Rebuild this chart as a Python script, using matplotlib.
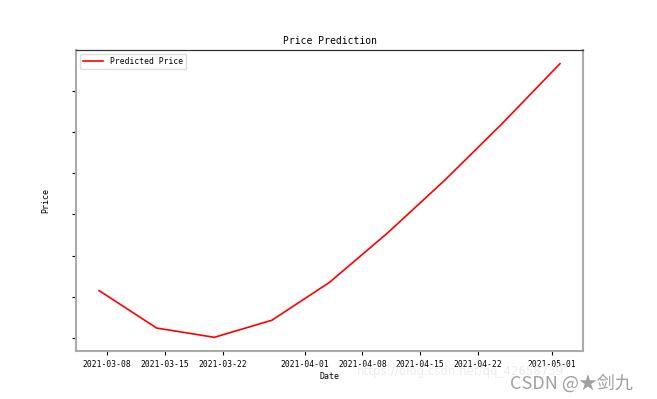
import numpy as np
import pandas as pd
import matplotlib
matplotlib.use('Agg')
import matplotlib.pyplot as plt
import matplotlib.dates as mdates

# weekly predicted prices (y tick labels are hidden in the source, so units are relative)
dates = pd.date_range('2021-03-07', '2021-05-02', freq='7D')
pred_price = [1.15, 0.24, 0.015, 0.43, 1.35, 2.54, 3.83, 5.21, 6.66]
yticks = [0, 1, 2, 3, 4, 5, 6]

plt.rcParams['font.family'] = ['DejaVu Sans Mono', 'Noto Sans CJK SC']

fig = plt.figure(figsize=(6.57, 3.99), dpi=100)
ax = fig.add_axes([0.1157, 0.1203, 0.7717, 0.7544])

ax.plot(dates, pred_price, color='red', lw=1.2, label='Predicted Price')

ax.set_yticks(yticks)
ax.set_yticklabels([])
ax.xaxis.set_major_locator(mdates.DayLocator(bymonthday=[1, 8, 15, 22]))
ax.xaxis.set_major_formatter(mdates.DateFormatter('%Y-%m-%d'))
ax.tick_params(axis='both', labelsize=5.8, length=3, width=0.8)

for side in ['left', 'right', 'bottom']:
    ax.spines[side].set_color('#aaaaaa')
    ax.spines[side].set_linewidth(1.5)
ax.spines['top'].set_color('#333333')
ax.spines['top'].set_linewidth(0.9)

ax.set_title('Price Prediction', fontsize=7, pad=4)
ax.set_xlabel('Date', fontsize=6, labelpad=2)
ax.set_ylabel('Price', fontsize=6, labelpad=12)
ax.legend(loc='upper left', fontsize=5.8, framealpha=1, edgecolor='#dddddd',
          handlelength=2.5)

# watermarks from the source image
fig.text(0.543, 0.06, 'https://blog.csdn.net/qq_42658739', fontsize=8.5,
         color='#ececec', family=['DejaVu Sans'])
fig.text(0.776, 0.025, 'CSDN @★剑九', fontsize=13, color='#a0a0a0',
         family=['Noto Sans CJK SC', 'DejaVu Sans'])

plt.savefig('out.png', dpi=100, facecolor='white')
